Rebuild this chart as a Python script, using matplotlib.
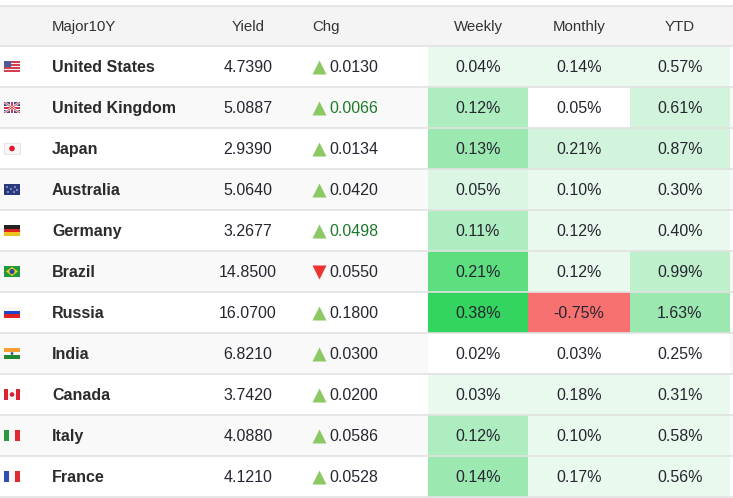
import matplotlib
matplotlib.use("Agg")
import matplotlib.pyplot as plt
from matplotlib.patches import Rectangle, Polygon, Circle

# ---------------- data ----------------
countries = ["United States", "United Kingdom", "Japan", "Australia", "Germany",
             "Brazil", "Russia", "India", "Canada", "Italy", "France"]
flags = ["us", "gb", "jp", "au", "de", "br", "ru", "in", "ca", "it", "fr"]
yields = [4.7390, 5.0887, 2.9390, 5.0640, 3.2677, 14.8500, 16.0700, 6.8210, 3.7420, 4.0880, 4.1210]
chg = [0.0130, 0.0066, 0.0134, 0.0420, 0.0498, -0.0550, 0.1800, 0.0300, 0.0200, 0.0586, 0.0528]
weekly = [0.04, 0.12, 0.13, 0.05, 0.11, 0.21, 0.38, 0.02, 0.03, 0.12, 0.14]
monthly = [0.14, 0.05, 0.21, 0.10, 0.12, 0.12, -0.75, 0.03, 0.18, 0.10, 0.17]
ytd = [0.57, 0.61, 0.87, 0.30, 0.40, 0.99, 1.63, 0.25, 0.31, 0.58, 0.56]
headers = ["Major10Y", "Yield", "Chg", "Weekly", "Monthly", "YTD"]
flash_rows = {"United Kingdom", "Germany"}  # Chg text shown highlighted

# ---------------- styling ----------------
GREENS = ['#ffffff', '#e9f9ed', '#dcf6e4', '#d2f4dc', '#bff0cc',
          '#aeedc0', '#9ce8b1', '#5ddf80', '#33d45f']
RED = '#f87171'

def level(v, thresholds):
    n = 0
    for t in thresholds:
        if v >= t:
            n += 1
    return n

def weekly_color(v):
    if v < 0:
        return RED
    return GREENS[[0, 1, 2, 5, 6, 7, 8][level(v, [0.03, 0.05, 0.08, 0.13, 0.20, 0.30])]]

def monthly_color(v):
    if v < 0:
        return RED
    return GREENS[[0, 1, 3, 5][level(v, [0.08, 0.20, 0.30])]]

def ytd_color(v):
    if v < 0:
        return RED
    return GREENS[[0, 1, 3, 4, 6][level(v, [0.28, 0.60, 0.90, 1.20])]]

W, H = 733, 498
fig = plt.figure(figsize=(W / 100, H / 100), dpi=100)
ax = fig.add_axes([0, 0, 1, 1])
ax.set_xlim(0, W)
ax.set_ylim(H, 0)
ax.axis('off')

FONT = "Liberation Sans"
TXT = '#262630'
header_top, header_bot = 6, 46
row_h = 41
FS = 11.5
BASE = 5.8   # baseline offset below the row centre (px)

# header
ax.add_patch(Rectangle((0, header_top), W, header_bot - header_top, color='#f4f4f4', lw=0))
hy = (header_top + header_bot) / 2 + 5.2
hfs = 10.8
hc = '#333333'
ax.text(52, hy, headers[0], ha='left', va='baseline', fontsize=hfs, family=FONT, color=hc)
ax.text(248, hy, headers[1], ha='center', va='baseline', fontsize=hfs, family=FONT, color=hc)
ax.text(312, hy, headers[2], ha='left', va='baseline', fontsize=hfs, family=FONT, color=hc)
ax.text(478, hy, headers[3], ha='center', va='baseline', fontsize=hfs, family=FONT, color=hc)
ax.text(579, hy, headers[4], ha='center', va='baseline', fontsize=hfs, family=FONT, color=hc)
ax.text(680, hy, headers[5], ha='center', va='baseline', fontsize=hfs, family=FONT, color=hc)

cols = [(428, 528, weekly, weekly_color), (528, 630, monthly, monthly_color), (630, 730, ytd, ytd_color)]


def draw_flag(code, x, yc):
    w, h = 16, 11
    y0 = yc - h / 2
    def hstripes(colors):
        sh = h / len(colors)
        for k, c in enumerate(colors):
            ax.add_patch(Rectangle((x, y0 + k * sh), w, sh, color=c, lw=0))
    def vstripes(colors):
        sw = w / len(colors)
        for k, c in enumerate(colors):
            ax.add_patch(Rectangle((x + k * sw, y0), sw, h, color=c, lw=0))
    if code == 'us':
        hstripes(['#d04050', '#f4f4f4'] * 3 + ['#d04050'])
        ax.add_patch(Rectangle((x, y0), 7, 6, color='#4a5a9a', lw=0))
    elif code == 'gb':
        ax.add_patch(Rectangle((x, y0), w, h, color='#3a4a8a', lw=0))
        ax.plot([x, x + w], [y0, y0 + h], color='white', lw=1.6, solid_capstyle='butt')
        ax.plot([x, x + w], [y0 + h, y0], color='white', lw=1.6, solid_capstyle='butt')
        ax.plot([x, x + w], [y0, y0 + h], color='#cc3344', lw=0.6, solid_capstyle='butt')
        ax.plot([x, x + w], [y0 + h, y0], color='#cc3344', lw=0.6, solid_capstyle='butt')
        ax.add_patch(Rectangle((x + 6, y0), 4, h, color='white', lw=0))
        ax.add_patch(Rectangle((x, y0 + 3.5), w, 4, color='white', lw=0))
        ax.add_patch(Rectangle((x + 7, y0), 2, h, color='#cc3344', lw=0))
        ax.add_patch(Rectangle((x, y0 + 4.5), w, 2, color='#cc3344', lw=0))
    elif code == 'jp':
        ax.add_patch(Rectangle((x, y0), w, h, color='#f6f6f6', ec='#dddddd', lw=0.5))
        ax.add_patch(Circle((x + w / 2, yc), 2.8, color='#e0182a', lw=0))
    elif code == 'au':
        ax.add_patch(Rectangle((x, y0), w, h, color='#2a3a80', lw=0))
        for (dx, dy) in [(3, 3), (4, 8), (11, 3), (13, 6), (10, 8), (7, 5)]:
            ax.add_patch(Circle((x + dx, y0 + dy), 0.7, color='white', lw=0))
    elif code == 'de':
        hstripes(['#222222', '#dd2222', '#f0c020'])
    elif code == 'br':
        ax.add_patch(Rectangle((x, y0), w, h, color='#1f9a3a', lw=0))
        ax.add_patch(Polygon([(x + 2, yc), (x + w / 2, y0 + 1), (x + w - 2, yc), (x + w / 2, y0 + h - 1)],
                             closed=True, color='#f2d020', lw=0))
        ax.add_patch(Circle((x + w / 2, yc), 2.6, color='#2a4aa0', lw=0))
    elif code == 'ru':
        hstripes(['#f6f6f6', '#2244cc', '#dd2222'])
    elif code == 'in':
        hstripes(['#f5a030', '#f6f6f6', '#208a30'])
        ax.add_patch(Circle((x + w / 2, yc), 1.4, color='#3050a0', lw=0))
    elif code == 'ca':
        vstripes(['#dd2233', '#f6f6f6', '#f6f6f6', '#dd2233'])
        ax.add_patch(Circle((x + w / 2, yc), 2.3, color='#dd2233', lw=0))
    elif code == 'it':
        vstripes(['#2a9a40', '#f6f6f6', '#dd2a30'])
    elif code == 'fr':
        vstripes(['#3050b0', '#f6f6f6', '#dd2a30'])


for i, name in enumerate(countries):
    top = header_bot + i * row_h
    yc = top + row_h / 2
    yb = yc + BASE
    bg = '#ffffff' if i % 2 == 0 else '#f9f9f9'
    ax.add_patch(Rectangle((0, top), W, row_h, color=bg, lw=0))
    for (x0, x1, vals, cfun) in cols:
        ax.add_patch(Rectangle((x0, top), x1 - x0, row_h, color=cfun(vals[i]), lw=0))
        ax.text((x0 + x1) / 2, yb, f"{vals[i]:.2f}%", ha='center', va='baseline',
                fontsize=FS, family=FONT, color=TXT)
    draw_flag(flags[i], 4, yc)
    ax.text(52, yb, name, ha='left', va='baseline', fontsize=FS, family=FONT,
            fontweight='bold', color='#2b2b2b')
    ax.text(248, yb, f"{yields[i]:.4f}", ha='center', va='baseline', fontsize=FS,
            family=FONT, color=TXT)
    up = chg[i] >= 0
    ax.plot([318.5], [yc], marker='^' if up else 'v', ms=10, mec='none',
            color='#8cc964' if up else '#ee3333')
    ax.text(329, yb, f"{abs(chg[i]):.4f}", ha='left', va='baseline', fontsize=FS,
            family=FONT, color='#1e7a2a' if name in flash_rows else TXT)

# horizontal rules
for yl in [header_top, header_bot] + [header_bot + (k + 1) * row_h for k in range(len(countries))]:
    ax.plot([0, W], [yl, yl], color='#e2e2e2', lw=1.2, solid_capstyle='butt')

fig.savefig("out.png", dpi=100, facecolor='white')
